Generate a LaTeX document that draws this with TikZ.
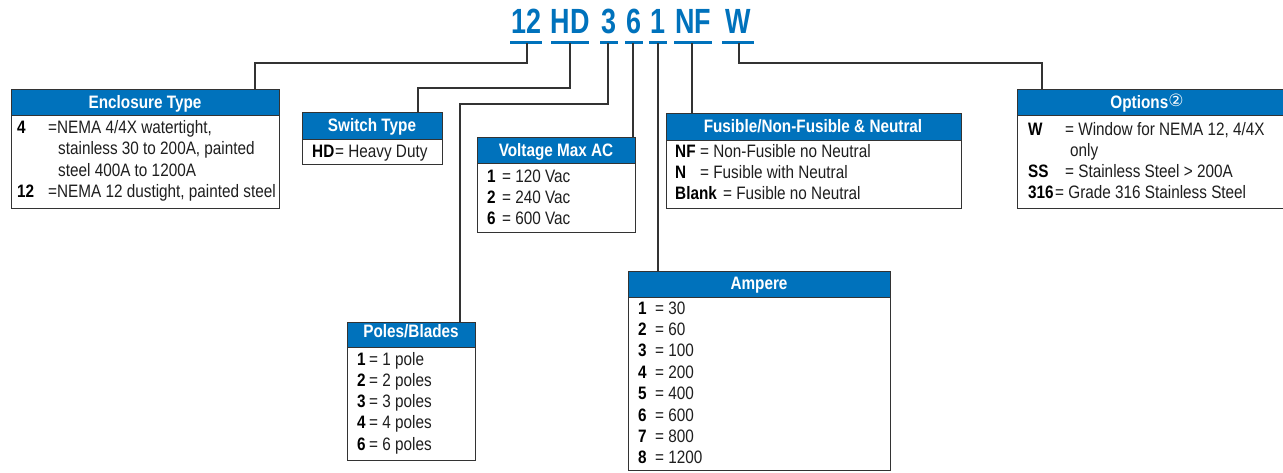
\documentclass[tikz,border=0pt]{standalone}
\usepackage{fontspec}
\setmainfont{Liberation Sans}[FakeStretch=0.85]
\newfontfamily\codefont{Liberation Sans}[FakeStretch=0.77]
\newfontfamily\dejavu{DejaVu Sans}
\definecolor{eblue}{HTML}{0072BC}
\definecolor{edark}{HTML}{333333}
\definecolor{textc}{HTML}{1E1E1E}
\begin{document}
\begin{tikzpicture}[x=1pt,y=-1pt,
  code/.style={text=eblue, font=\codefont\fontsize{35}{35}\selectfont\bfseries, anchor=base, inner sep=0},
  uline/.style={draw=eblue, line width=3pt},
  conn/.style={draw=edark, line width=1.3pt},
  boxst/.style={draw=edark, line width=1.2pt, anchor=north west, inner sep=0},
  hdr/.style={fill=eblue, draw=edark, line width=1.2pt, anchor=north west, inner sep=0},
  htxt/.style={text=white, font=\fontsize{18}{18}\selectfont\bfseries, anchor=base, inner sep=0},
  key/.style={font=\fontsize{18}{18}\selectfont\bfseries, anchor=base west, inner sep=0, text=black},
  val/.style={font=\fontsize{18}{18}\selectfont, anchor=base west, inner sep=0, text=textc}]
\clip (0,0) rectangle (1283,472);
\fill[white] (0,0) rectangle (1283,472);

% code letters
\node[code] (c12) at (526,33) {12};
\node[code] (cHD) at (570,33) {HD};
\node[code] (c3) at (609,33) {3};
\node[code] (c6) at (634,33) {6};
\node[code] (c1) at (658,33) {1};
\node[code] (cNF) at (693,33) {NF};
\node[code] (cW) at (738,33) {W};
\draw[uline] (510,42) -- (542,42);
\draw[uline] (551,42) -- (589,42);
\draw[uline] (600,42) -- (618,42);
\draw[uline] (625,42) -- (643,42);
\draw[uline] (649,42) -- (667,42);
\draw[uline] (674,42) -- (712,42);
\draw[uline] (722,42) -- (754,42);
\coordinate (u12) at (527,43);
\coordinate (uHD) at (570,43);
\coordinate (u3) at (608,43);
\coordinate (u6) at (633,43);
\coordinate (u1) at (658,43);
\coordinate (uNF) at (692,43);
\coordinate (uW) at (739,43);

% boxes
\node[boxst, minimum width=268pt, minimum height=119pt] (enc) at (11,89) {};
\node[hdr, minimum width=268pt, minimum height=26pt] (ench) at (11,89) {};
\node[boxst, minimum width=140pt, minimum height=52pt] (sw) at (302,112) {};
\node[hdr, minimum width=140pt, minimum height=27pt] (swh) at (302,112) {};
\node[boxst, minimum width=158pt, minimum height=95pt] (vol) at (477,137) {};
\node[hdr, minimum width=158pt, minimum height=26pt] (volh) at (477,137) {};
\node[boxst, minimum width=295pt, minimum height=95pt] (fus) at (666,113) {};
\node[hdr, minimum width=295pt, minimum height=27pt] (fush) at (666,113) {};
\node[boxst, minimum width=280pt, minimum height=119pt] (opt) at (1017,89) {};
\node[hdr, minimum width=280pt, minimum height=26pt] (opth) at (1017,89) {};
\node[boxst, minimum width=128pt, minimum height=138pt] (pol) at (347,322) {};
\node[hdr, minimum width=128pt, minimum height=25pt] (polh) at (347,322) {};
\node[boxst, minimum width=262pt, minimum height=199pt] (amp) at (628,271) {};
\node[hdr, minimum width=262pt, minimum height=26pt] (amph) at (628,271) {};

% connectors
\draw[conn] (u12) -- ++(0,20) -| (enc.north -| 255,0);
\draw[conn] (uHD) -- ++(0,45) -| (sw.north -| 418,0);
\draw[conn] (u3) -- ++(0,61) -| (pol.north -| 460,0);
\draw[conn] (u6) -- (vol.north -| u6);
\draw[conn] (u1) -- (amp.north -| u1);
\draw[conn] (uNF) -- (fus.north -| uNF);
\draw[conn] (uW) -- ++(0,20) -| (opt.north -| 1042,0);

% headers
\node[htxt] (encT) at (145,108) {Enclosure Type};
\node[htxt] (swT) at (372,131) {Switch Type};
\node[htxt] (volT) at (556,156) {Voltage Max AC};
\node[htxt] (fusT) at (813,132) {Fusible/Non-Fusible \& Neutral};
\node[htxt] (optT) at (1147,108) {Options{\mdseries\dejavu\fontsize{17}{17}\selectfont\raisebox{1.5pt}{②}}};
\node[htxt] (polT) at (411,337) {Poles/Blades};
\node[htxt] (ampT) at (759,289) {Ampere};

% enclosure
\node[key] (e1k) at (17,133) {4};
\node[val] (e1v) at (48,133) {=NEMA 4/4X watertight,};
\node[val] (e2v) at (58,154.5) {stainless 30 to 200A, painted};
\node[val] (e3v) at (58,176) {steel 400A to 1200A};
\node[key] (e4k) at (17,197.5) {12};
\node[val] (e4v) at (48,197.5) {=NEMA 12 dustight, painted steel};

% switch
\node[key] (s1k) at (312,157) {HD};
\node[val] (s1v) at (335,157) {= Heavy Duty};

% voltage
\node[key] (v1k) at (487,182) {1};
\node[val] (v1v) at (502,182) {= 120 Vac};
\node[key] (v2k) at (487,203) {2};
\node[val] (v2v) at (502,203) {= 240 Vac};
\node[key] (v3k) at (487,224) {6};
\node[val] (v3v) at (502,224) {= 600 Vac};

% fusible
\node[key] (f1k) at (675,157) {NF};
\node[val] (f1v) at (700,157) {= Non-Fusible no Neutral};
\node[key] (f2k) at (675,178) {N};
\node[val] (f2v) at (700,178) {= Fusible with Neutral};
\node[key] (f3k) at (675,199) {Blank};
\node[val] (f3v) at (723,199) {= Fusible no Neutral};

% options
\node[key] (o1k) at (1028,135) {W};
\node[val] (o1v) at (1065,135) {= Window for NEMA 12, 4/4X};
\node[val] (o2v) at (1070,156) {only};
\node[key] (o3k) at (1028,177) {SS};
\node[val] (o3v) at (1065,177) {= Stainless Steel > 200A};
\node[key] (o4k) at (1028,198) {316};
\node[val] (o4v) at (1055,198) {= Grade 316 Stainless Steel};

% poles
\node[key] (p1k) at (357,365) {1};
\node[val] (p1v) at (369,365) {= 1 pole};
\node[key] (p2k) at (357,386) {2};
\node[val] (p2v) at (369,386) {= 2 poles};
\node[key] (p3k) at (357,407) {3};
\node[val] (p3v) at (369,407) {= 3 poles};
\node[key] (p4k) at (357,428) {4};
\node[val] (p4v) at (369,428) {= 4 poles};
\node[key] (p5k) at (357,450) {6};
\node[val] (p5v) at (369,450) {= 6 poles};

% ampere
\node[key] (a1k) at (638,314) {1};
\node[val] (a1v) at (655,314) {= 30};
\node[key] (a2k) at (638,335.4) {2};
\node[val] (a2v) at (655,335.4) {= 60};
\node[key] (a3k) at (638,356.8) {3};
\node[val] (a3v) at (655,356.8) {= 100};
\node[key] (a4k) at (638,378.2) {4};
\node[val] (a4v) at (655,378.2) {= 200};
\node[key] (a5k) at (638,399.6) {5};
\node[val] (a5v) at (655,399.6) {= 400};
\node[key] (a6k) at (638,421) {6};
\node[val] (a6v) at (655,421) {= 600};
\node[key] (a7k) at (638,442.4) {7};
\node[val] (a7v) at (655,442.4) {= 800};
\node[key] (a8k) at (638,463.8) {8};
\node[val] (a8v) at (655,463.8) {= 1200};
\end{tikzpicture}
\end{document}
